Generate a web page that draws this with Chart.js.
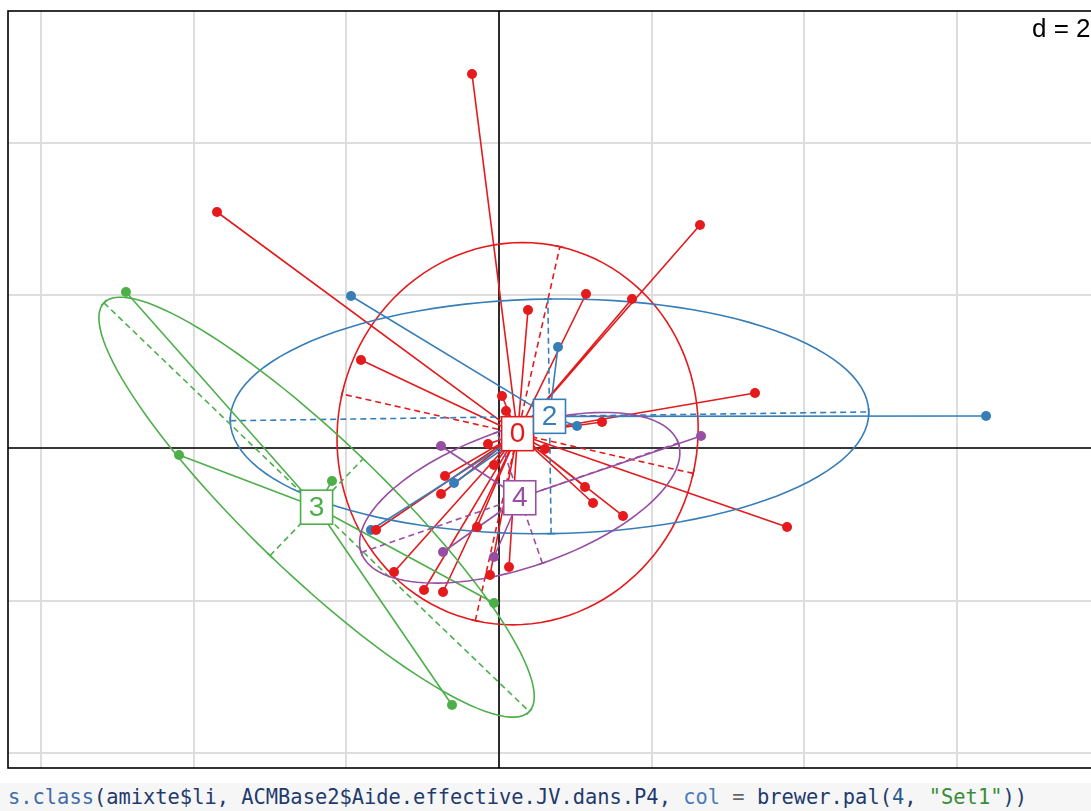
<!DOCTYPE html>
<html>
<head>
<meta charset="utf-8">
<script src="https://cdn.jsdelivr.net/npm/chart.js@4"></script>
<style>
html, body { margin: 0; padding: 0; background: #fff; overflow: hidden; width: 1091px; height: 811px; }
#wrap { position: absolute; left: 0; top: 0; width: 1130px; height: 775px; }
#code { position: absolute; left: 0; top: 783px; width: 1083px; height: 28px; padding-left: 8px;
        background: #f6f6f6; font-family: "DejaVu Sans Mono", monospace; font-size: 20.4px;
        line-height: 28px; white-space: nowrap; color: #1f3b6e; }
#code .fn { color: #3d6ea8; }
#code .arg { color: #4a7cb8; }
#code .op { color: #666; }
#code .num { color: #2a5a8a; }
#code .str { color: #3a8c3a; }
</style>
</head>
<body>
<div id="wrap"><canvas id="c" width="1130" height="775"></canvas></div>
<div id="code"><span class="fn">s.class</span>(amixte$li, ACMBase2$Aide.effective.JV.dans.P4, <span class="arg">col</span><span class="op"> = </span>brewer.pal(<span class="num">4</span>, <span class="str">"Set1"</span>))</div>
<script>
// class levels and colours (brewer.pal(4, "Set1"))
const classLabels = ['0', '2', '3', '4'];
const classColors = ['#E41A1C', '#377EB8', '#4DAF4A', '#984EA3'];

// row scores, grouped by class
const class0X = [-0.354, -3.696, 2.634, 1.140, 1.743, 0.380, -1.809, 3.355, 1.350, 3.775, 1.625, 0.039, 0.092, -0.144,
                 0.603, -0.066, -0.708, -0.760, 1.127, 1.232, -0.288, -1.612, -1.376, -0.983, -0.734, -0.118, 0.131];
const class0Y = [4.902, 3.093, 2.923, 2.018, 1.953, 1.809, 1.153, 0.721, 0.341, -1.035, -0.891, 0.682, 0.485, 0.052,
                 -0.013, -0.223, -0.367, -0.603, -0.511, -0.721, -1.035, -1.075, -1.625, -1.861, -1.887, -1.664, -1.560];
const class2X = [-1.940, 0.773, 1.022, 6.383, -0.590, -1.678];
const class2Y = [1.992, 1.324, 0.288, 0.419, -0.459, -1.075];
const class3X = [-4.889, -4.194, -2.189, -0.066, -0.616];
const class3Y = [2.045, -0.092, -0.433, -2.031, -3.368];
const class4X = [-0.760, 2.647, -0.734, -0.066];
const class4Y = [0.026, 0.157, -1.363, -1.429];

// grid (d = 2)
const gridStep = 2;
const gridX = [-6, -4, -2, 0, 2, 4, 6, 8];
const gridY = [-4, -2, 0, 2, 4];
const ellipseSize = 1.5;

const classX = [class0X, class2X, class3X, class4X];
const classY = [class0Y, class2Y, class3Y, class4Y];

function classStats(xs, ys) {
    const n = xs.length;
    let mx = 0, my = 0;
    for (let i = 0; i < n; i++) { mx += xs[i]; my += ys[i]; }
    mx /= n; my /= n;
    let vx = 0, vy = 0, cv = 0;
    for (let i = 0; i < n; i++) {
        vx += (xs[i] - mx) ** 2;
        vy += (ys[i] - my) ** 2;
        cv += (xs[i] - mx) * (ys[i] - my);
    }
    vx /= n; vy /= n; cv /= n;
    const half = (vx + vy) / 2;
    const d = Math.sqrt(((vx - vy) / 2) ** 2 + cv * cv);
    const l1 = half + d, l2 = Math.max(half - d, 0);
    let u;
    if (Math.abs(cv) > 1e-12) {
        u = [l1 - vy, cv];
        const len = Math.hypot(u[0], u[1]);
        u = [u[0] / len, u[1] / len];
    } else {
        u = vx >= vy ? [1, 0] : [0, 1];
    }
    const v = [-u[1], u[0]];
    return { mx, my, a: ellipseSize * Math.sqrt(l1), b: ellipseSize * Math.sqrt(l2), u, v };
}

const stats = classX.map((xs, k) => classStats(xs, classY[k]));

const sclassPlugin = {
    id: 'sclass',
    beforeDatasetsDraw(chart) {
        const { ctx, chartArea: area, scales } = chart;
        const sx = scales.x, sy = scales.y;
        const px = v => sx.getPixelForValue(v);
        const py = v => sy.getPixelForValue(v);
        ctx.save();
        ctx.beginPath();
        ctx.rect(area.left, area.top, area.right - area.left, area.bottom - area.top);
        ctx.clip();

        // axes through the origin
        ctx.strokeStyle = '#000';
        ctx.lineWidth = 1.6;
        ctx.beginPath();
        ctx.moveTo(px(0), area.top); ctx.lineTo(px(0), area.bottom);
        ctx.moveTo(area.left, py(0)); ctx.lineTo(area.right, py(0));
        ctx.stroke();

        stats.forEach((s, k) => {
            const col = classColors[k];
            ctx.strokeStyle = col;
            ctx.lineWidth = 1.6;

            // ellipse
            ctx.setLineDash([]);
            ctx.beginPath();
            for (let i = 0; i <= 120; i++) {
                const t = 2 * Math.PI * i / 120;
                const ex = s.mx + s.a * Math.cos(t) * s.u[0] + s.b * Math.sin(t) * s.v[0];
                const ey = s.my + s.a * Math.cos(t) * s.u[1] + s.b * Math.sin(t) * s.v[1];
                if (i === 0) ctx.moveTo(px(ex), py(ey)); else ctx.lineTo(px(ex), py(ey));
            }
            ctx.stroke();

            // ellipse axes (dashed) with small end marks
            [[s.u, s.a, s.v], [s.v, s.b, s.u]].forEach(([dir, len, perp]) => {
                const x1 = px(s.mx - len * dir[0]), y1 = py(s.my - len * dir[1]);
                const x2 = px(s.mx + len * dir[0]), y2 = py(s.my + len * dir[1]);
                ctx.setLineDash([6, 4]);
                ctx.beginPath();
                ctx.moveTo(x1, y1); ctx.lineTo(x2, y2);
                ctx.stroke();
                ctx.setLineDash([]);
                const ox = perp[0] * 4, oy = -perp[1] * 4;
                ctx.beginPath();
                ctx.moveTo(x1 - ox, y1 - oy); ctx.lineTo(x1 + ox, y1 + oy);
                ctx.moveTo(x2 - ox, y2 - oy); ctx.lineTo(x2 + ox, y2 + oy);
                ctx.stroke();
            });

            // stars
            ctx.beginPath();
            classX[k].forEach((x, i) => {
                ctx.moveTo(px(x), py(classY[k][i]));
                ctx.lineTo(px(s.mx), py(s.my));
            });
            ctx.stroke();
        });
        ctx.restore();
    },
    afterDatasetsDraw(chart) {
        const { ctx, chartArea: area, scales } = chart;
        const sx = scales.x, sy = scales.y;
        ctx.save();
        // class labels
        ctx.font = '28px "Liberation Sans", Arial, sans-serif';
        ctx.textAlign = 'center';
        ctx.textBaseline = 'middle';
        stats.forEach((s, k) => {
            const cx = sx.getPixelForValue(s.mx), cy = sy.getPixelForValue(s.my);
            ctx.fillStyle = '#fff';
            ctx.fillRect(cx - 16, cy - 17, 32, 34);
            ctx.strokeStyle = classColors[k];
            ctx.lineWidth = 1.6;
            ctx.strokeRect(cx - 16, cy - 17, 32, 34);
            ctx.fillStyle = classColors[k];
            ctx.fillText(classLabels[k], cx, cy + 1);
        });
        // frame
        ctx.strokeStyle = '#000';
        ctx.lineWidth = 1.6;
        ctx.strokeRect(area.left, area.top, area.right - area.left, area.bottom - area.top);
        // grid size
        ctx.fillStyle = '#000';
        ctx.font = '26px "Liberation Sans", Arial, sans-serif';
        ctx.textAlign = 'left';
        ctx.fillText('d = ' + gridStep, 1032, 30);
        ctx.restore();
    }
};

const datasets = classLabels.map((lab, k) => ({
    label: lab,
    data: classX[k].map((x, i) => ({ x: x, y: classY[k][i] })),
    backgroundColor: classColors[k],
    borderWidth: 0,
    pointRadius: 5
}));

const gridOpts = { color: '#dddddd', lineWidth: 2, drawTicks: false };

new Chart(document.getElementById('c'), {
    type: 'scatter',
    data: { datasets: datasets },
    options: {
        responsive: false,
        animation: false,
        devicePixelRatio: 1,
        layout: { padding: { left: 8, top: 11, right: 15, bottom: 7 } },
        scales: {
            x: {
                min: -6.435, max: 8.073,
                ticks: { display: false },
                afterBuildTicks: scale => { scale.ticks = gridX.map(v => ({ value: v })); },
                grid: gridOpts,
                border: { display: false }
            },
            y: {
                min: -4.194, max: 5.727,
                ticks: { display: false },
                afterBuildTicks: scale => { scale.ticks = gridY.map(v => ({ value: v })); },
                grid: gridOpts,
                border: { display: false }
            }
        },
        plugins: { legend: { display: false }, tooltip: { enabled: false } }
    },
    plugins: [sclassPlugin]
});
</script>
</body>
</html>
